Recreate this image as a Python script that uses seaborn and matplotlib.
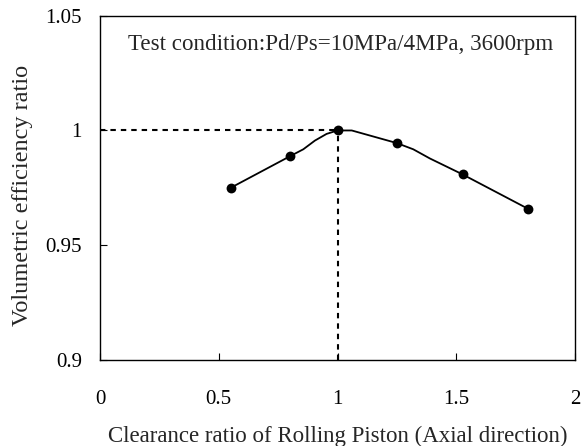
import matplotlib
matplotlib.use("Agg")
import matplotlib.pyplot as plt
import seaborn as sns
import pandas as pd

# measured points
clearance = [0.55, 0.80, 1.00, 1.25, 1.53, 1.80]
efficiency = [0.975, 0.989, 1.000, 0.9945, 0.981, 0.966]

# smoothed trend line as drawn in the reference (read vertices)
curve_x = [0.55, 0.804, 0.856, 0.905, 0.954, 1.00, 1.06, 1.25, 1.319, 1.389, 1.524, 1.80]
curve_y = [0.975, 0.989, 0.9918, 0.9956, 0.9985, 1.000, 1.000, 0.9945, 0.9918, 0.9878, 0.981, 0.966]

# reference (dashed) lines
ref_h_x = [0.0, 1.0]
ref_h_y = [1.0, 1.0]
ref_v_x = [1.0, 1.0]
ref_v_y = [0.9, 1.0]

xticks = [0, 0.5, 1, 1.5, 2]
xticklabels = ["0", "0.5", "1", "1.5", "2"]
yticks = [0.9, 0.95, 1.0, 1.05]
yticklabels = ["0.9", "0.95", "1", "1.05"]

sns.set_style("ticks")
plt.rcParams["font.family"] = ["Liberation Serif", "DejaVu Serif"]

fig = plt.figure(figsize=(5.81, 4.46), dpi=100)
ax = fig.add_axes([100 / 581, 1 - 360 / 446, 475 / 581, 344.3 / 446])

df_curve = pd.DataFrame({"x": curve_x, "y": curve_y})
df_pts = pd.DataFrame({"x": clearance, "y": efficiency})

ax.plot(ref_h_x, ref_h_y, color="black", lw=1.5, ls=(0, (2.6, 2.4)), zorder=2)
ax.plot(ref_v_x, ref_v_y, color="black", lw=1.5, ls=(0, (2.6, 2.4)), zorder=2)

sns.lineplot(data=df_curve, x="x", y="y", sort=False, estimator=None,
             color="black", lw=1.3, ax=ax, zorder=3)
sns.scatterplot(data=df_pts, x="x", y="y", color="black", s=50,
                edgecolor="black", linewidth=0, ax=ax, zorder=4)

ax.set_xlim(0, 2)
ax.set_ylim(0.9, 1.05)
ax.set_xticks(xticks)
ax.set_xticklabels(xticklabels)
ax.set_yticks(yticks)
ax.set_yticklabels(yticklabels)

for s in ax.spines.values():
    s.set_visible(True)
    s.set_linewidth(1.0)
    s.set_color("black")

ax.tick_params(axis="x", direction="in", length=5, width=0.8, pad=21.5,
               labelsize=15, colors="black")
ax.tick_params(axis="y", direction="in", length=5, width=0.8, pad=13,
               labelsize=15, colors="black")

ax.set_xlabel("Clearance ratio of Rolling Piston (Axial direction)", fontsize=16.5)
ax.set_ylabel("Volumetric efficiency ratio", fontsize=17.5)
ax.xaxis.set_label_coords(0.5, (360 - 436.7) / 344.3)
ax.xaxis.label.set_va("center")
ax.yaxis.set_label_coords((23 - 100) / 475, (360 - 195) / 344.3)
ax.yaxis.label.set_va("center")

ax.text((128 - 100) / 475, (360 - 50) / 344.3,
        "Test condition:Pd/Ps=10MPa/4MPa, 3600rpm",
        transform=ax.transAxes, fontsize=16.6, va="baseline", ha="left")

fig.savefig("out.png", dpi=100)
